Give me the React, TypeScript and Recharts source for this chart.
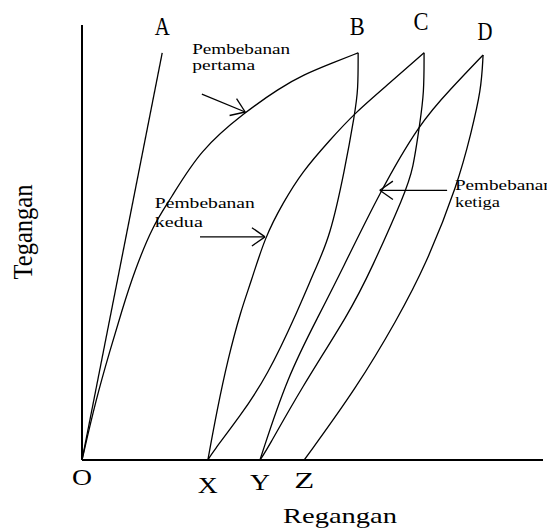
import React from 'react';
import { LineChart, Line, XAxis, YAxis, ReferenceLine, ReferenceDot, Label } from 'recharts';

// Data in chart units (strain on x, stress on y, both 0..100)
const loadOA = [
  { x: 0, y: 0 },
  { x: 17.4, y: 93.6 },
];
const loadOB = [
  { x: 0, y: 0 }, { x: 3.0, y: 13.8 }, { x: 6.1, y: 25.3 }, { x: 8.7, y: 34.5 },
  { x: 11.3, y: 43.2 }, { x: 15.4, y: 54.0 }, { x: 19.1, y: 59.8 }, { x: 25.6, y: 71.3 },
  { x: 35.4, y: 80.0 }, { x: 42.9, y: 85.5 }, { x: 47.9, y: 88.5 }, { x: 54.4, y: 91.3 },
  { x: 59.9, y: 93.6 },
];
const unloadBX = [
  { x: 59.9, y: 93.6 }, { x: 59.9, y: 85.1 }, { x: 59.2, y: 79.8 }, { x: 57.0, y: 66.7 },
  { x: 53.8, y: 51.3 }, { x: 50.5, y: 43.7 }, { x: 46.9, y: 34.5 }, { x: 40.1, y: 19.1 },
  { x: 34.3, y: 10.1 }, { x: 28.2, y: 1.6 }, { x: 27.3, y: 0 },
];
const loadXC = [
  { x: 27.3, y: 0 }, { x: 29.3, y: 11.5 }, { x: 31.6, y: 23.0 }, { x: 34.5, y: 34.5 },
  { x: 36.6, y: 40.7 }, { x: 39.7, y: 51.3 }, { x: 43.6, y: 59.1 }, { x: 47.7, y: 66.2 },
  { x: 53.8, y: 73.6 }, { x: 59.2, y: 79.8 }, { x: 66.8, y: 86.7 }, { x: 74.2, y: 93.6 },
];
const unloadCY = [
  { x: 74.2, y: 93.6 }, { x: 74.2, y: 84.4 }, { x: 73.3, y: 77.5 }, { x: 71.8, y: 66.7 },
  { x: 70.1, y: 61.4 }, { x: 62.7, y: 43.7 }, { x: 58.1, y: 34.0 }, { x: 47.3, y: 16.1 },
  { x: 40.1, y: 2.3 }, { x: 38.6, y: 0 },
];
const loadYD = [
  { x: 38.6, y: 0 }, { x: 44.5, y: 19.1 }, { x: 51.4, y: 33.3 }, { x: 56.4, y: 43.7 },
  { x: 64.6, y: 61.6 }, { x: 73.3, y: 77.5 }, { x: 79.8, y: 85.1 }, { x: 87.0, y: 93.1 },
];
const unloadDZ = [
  { x: 87.0, y: 93.1 }, { x: 86.6, y: 85.1 }, { x: 84.4, y: 75.2 }, { x: 81.6, y: 63.7 },
  { x: 74.6, y: 44.8 }, { x: 68.3, y: 32.2 }, { x: 59.7, y: 16.8 }, { x: 48.2, y: 0 },
];

const tickValues = [0, 27.3, 38.6, 48.2];
const tickLabels = ['O', 'X', 'Y', 'Z'];

const peakLabels = ['A', 'B', 'C', 'D'];
const peakPoints = [loadOA[1], loadOB[loadOB.length - 1], loadXC[loadXC.length - 1], loadYD[loadYD.length - 1]];

const annotationTexts = [
  ['Pembebanan', 'pertama'],
  ['Pembebanan', 'kedua'],
  ['Pembebanan', 'ketiga'],
];
const annotationAnchors = [
  { x: 23.9, y: 93.3 },
  { x: 15.8, y: 57.9 },
  { x: 80.9, y: 62.1 },
];
const arrowTails = [
  { x: 26.0, y: 84.1 },
  { x: 25.6, y: 51.3 },
  { x: 79.2, y: 62.0 },
];
const arrowTips = [
  { x: 35.4, y: 80.0 },
  { x: 39.7, y: 51.3 },
  { x: 64.6, y: 62.0 },
];

// styles (not data)
const tickDy = [25, 33, 30, 28];
const peakOffsets = [
  { dx: 0, dy: -18 },
  { dx: -1, dy: -18 },
  { dx: -3, dy: -23 },
  { dx: 2, dy: -15 },
];
const annoWidths = [
  [98, 63],
  [100, 48],
  [98, 45],
];
const annoLineGap = [16, 19, 17];
const letterFont = 'Liberation Serif';

const curveStyle = { stroke: '#000', strokeWidth: 1.3, dot: false, isAnimationActive: false, activeDot: false } as const;

const renderTick = (props: any) => {
  const idx = tickValues.indexOf(props.payload.value);
  return (
    <text
      x={props.x}
      y={props.y + (tickDy[idx] ?? 25) - 8}
      textAnchor="middle"
      fontFamily={letterFont}
      fontSize={24}
      textLength={20}
      lengthAdjust="spacingAndGlyphs"
      fill="#000"
    >
      {tickLabels[idx]}
    </text>
  );
};

const Arrow = (props: any) => {
  const { x1, y1, x2, y2 } = props;
  const dx = x1 - x2;
  const dy = y1 - y2;
  const len = Math.sqrt(dx * dx + dy * dy) || 1;
  const ux = dx / len;
  const uy = dy / len;
  const a = (35 * Math.PI) / 180;
  const h = 16;
  const r1x = ux * Math.cos(a) - uy * Math.sin(a);
  const r1y = ux * Math.sin(a) + uy * Math.cos(a);
  const r2x = ux * Math.cos(-a) - uy * Math.sin(-a);
  const r2y = ux * Math.sin(-a) + uy * Math.cos(-a);
  return (
    <g stroke="#000" strokeWidth={1.3} fill="none">
      <line x1={x1} y1={y1} x2={x2} y2={y2} />
      <line x1={x2} y1={y2} x2={x2 + r1x * h} y2={y2 + r1y * h} />
      <line x1={x2} y1={y2} x2={x2 + r2x * h} y2={y2 + r2y * h} />
    </g>
  );
};

export default function App() {
  return (
    <LineChart width={547} height={523} margin={{ top: 17, right: 12, left: 0, bottom: 31 }}>
      <XAxis
        type="number"
        dataKey="x"
        domain={[0, 100]}
        ticks={tickValues}
        interval={0}
        tick={renderTick}
        tickLine={false}
        axisLine={{ stroke: '#000', strokeWidth: 2 }}
        height={40}
        allowDataOverflow
      >
        <Label
          content={() => (
            <text
              x={332}
              y={515}
              textAnchor="middle"
              fontFamily="Liberation Serif"
              fontSize={21}
              textLength={114}
              lengthAdjust="spacingAndGlyphs"
              fill="#000"
            >
              Regangan
            </text>
          )}
        />
      </XAxis>
      <YAxis
        type="number"
        dataKey="y"
        domain={[0, 100]}
        tick={false}
        tickLine={false}
        axisLine={{ stroke: '#000', strokeWidth: 2 }}
        width={74}
        allowDataOverflow
      >
        <Label
          content={() => (
            <text
              transform="translate(24,224) rotate(-90)"
              textAnchor="middle"
              fontFamily="Liberation Serif"
              fontSize={28}
              textLength={95}
              lengthAdjust="spacingAndGlyphs"
              fill="#000"
            >
              Tegangan
            </text>
          )}
        />
      </YAxis>
      <Line data={loadOA} dataKey="y" type="linear" {...curveStyle} />
      <Line data={loadOB} dataKey="y" type="basis" {...curveStyle} />
      <Line data={unloadBX} dataKey="y" type="basis" {...curveStyle} />
      <Line data={loadXC} dataKey="y" type="basis" {...curveStyle} />
      <Line data={unloadCY} dataKey="y" type="basis" {...curveStyle} />
      <Line data={loadYD} dataKey="y" type="basis" {...curveStyle} />
      <Line data={unloadDZ} dataKey="y" type="basis" {...curveStyle} />

      {peakPoints.map((p, i) => (
        <ReferenceDot
          key={'peak' + i}
          x={p.x}
          y={p.y}
          r={0}
          shape={(sp: any) => (
            <text
              x={sp.cx + peakOffsets[i].dx}
              y={sp.cy + peakOffsets[i].dy}
              textAnchor="middle"
              fontFamily={letterFont}
              fontSize={26}
              textLength={15}
              lengthAdjust="spacingAndGlyphs"
              fill="#000"
            >
              {peakLabels[i]}
            </text>
          )}
        />
      ))}

      {arrowTails.map((t, i) => (
        <ReferenceLine
          key={'arrow' + i}
          segment={[t, arrowTips[i]]}
          shape={(lp: any) => <Arrow {...lp} />}
        />
      ))}

      {annotationAnchors.map((a, i) => (
        <ReferenceDot
          key={'anno' + i}
          x={a.x}
          y={a.y}
          r={0}
          shape={(sp: any) => (
            <g>
              {annotationTexts[i].map((line, j) => (
                <text
                  key={j}
                  x={sp.cx}
                  y={sp.cy + j * annoLineGap[i]}
                  fontFamily="Liberation Serif"
                  fontSize={15}
                  textLength={annoWidths[i][j]}
                  lengthAdjust="spacingAndGlyphs"
                  fill="#000"
                >
                  {line}
                </text>
              ))}
            </g>
          )}
        />
      ))}
    </LineChart>
  );
}
